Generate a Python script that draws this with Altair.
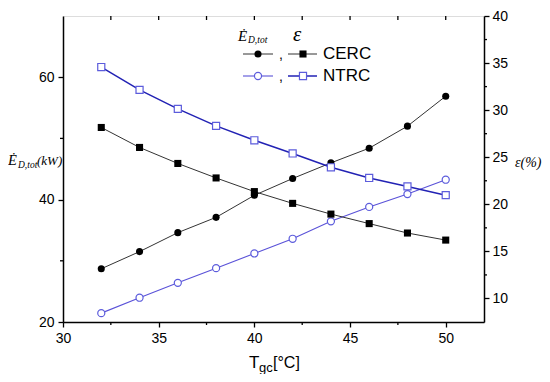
import altair as alt
import pandas as pd

# ---------------- data ----------------
T = [32, 34, 36, 38, 40, 42, 44, 46, 48, 50]
ed_cerc = [28.7, 31.5, 34.6, 37.1, 40.7, 43.45, 46.0, 48.4, 52.0, 56.9]
ed_ntrc = [21.45, 23.97, 26.4, 28.8, 31.2, 33.6, 36.45, 38.8, 40.9, 43.25]
eps_cerc = [28.16, 26.04, 24.34, 22.8, 21.35, 20.1, 18.96, 17.95, 16.95, 16.2]
eps_ntrc = [34.58, 32.15, 30.14, 28.33, 26.8, 25.4, 23.93, 22.8, 21.9, 20.97]

x_ticks = [30, 35, 40, 45, 50]
x_minor = [32.5, 37.5, 42.5, 47.5]
top_ticks = [32.5, 35, 37.5, 40, 42.5, 45, 47.5, 50]
left_ticks = [20, 40, 60]
left_minor = [30, 50]
right_ticks = [10, 15, 20, 25, 30, 35, 40]
right_minor = [12.5, 17.5, 22.5, 27.5, 32.5, 37.5]

W, H = 421, 306
SANS = "Liberation Sans"
SERIF = "Liberation Serif"
BLK_LINE = "#333333"
BLUE_C = "#5a52d8"
BLUE_S = "#2222b4"
BLUE_MK = "#5c5cdc"

d_ed_c = pd.DataFrame({"T": T, "ed": ed_cerc})
d_ed_n = pd.DataFrame({"T": T, "ed": ed_ntrc})
d_eps_c = pd.DataFrame({"T": T, "eps": eps_cerc})
d_eps_n = pd.DataFrame({"T": T, "eps": eps_ntrc})
one = pd.DataFrame({"k": [0]})

x_axis = alt.Axis(values=x_ticks, title=None, tickSize=5, tickWidth=1.3,
                  domainWidth=1.5, domainColor="black", tickColor="black",
                  labelFont=SANS, labelFontSize=14, labelColor="black",
                  labelPadding=4, grid=False, labelFlush=False)
xs = alt.Scale(domain=[30, 52], nice=False, zero=False)
X = alt.X("T:Q", scale=xs, axis=x_axis)

l_axis = alt.Axis(values=left_ticks, title=None, orient="left", tickSize=5,
                  tickWidth=1.3, domainWidth=1.5, domainColor="black",
                  tickColor="black", labelFont=SANS, labelFontSize=14,
                  labelColor="black", labelPadding=4, grid=False)
ls = alt.Scale(domain=[20, 70], nice=False, zero=False)
YL = alt.Y("ed:Q", scale=ls, axis=l_axis)

r_axis = alt.Axis(values=right_ticks, title=None, orient="right", tickSize=5,
                  tickWidth=1.3, domainWidth=1.5, domainColor="black",
                  tickColor="black", labelFont=SANS, labelFontSize=14,
                  labelColor="black", labelPadding=3, grid=False)
rs = alt.Scale(domain=[7.5, 40], nice=False, zero=False)
YR = alt.Y("eps:Q", scale=rs, axis=r_axis)

# ---------------- left (E_D,tot) group ----------------
l_line_c = alt.Chart(d_ed_c).mark_line(color=BLK_LINE, strokeWidth=1).encode(x=X, y=YL)
l_pt_c = alt.Chart(d_ed_c).mark_point(shape="circle", filled=True, color="black",
                                      size=50, opacity=1).encode(x=X, y=YL)
l_line_n = alt.Chart(d_ed_n).mark_line(color=BLUE_C, strokeWidth=1.1).encode(x=X, y=YL)
l_pt_n = alt.Chart(d_ed_n).mark_point(shape="circle", filled=False, fill="white",
                                      stroke=BLUE_MK, strokeWidth=1.2, size=50,
                                      opacity=1).encode(x=X, y=YL)
l_minor = alt.Chart(pd.DataFrame({"ed": left_minor})).mark_rule(
    color="black", strokeWidth=1.3).encode(
    y=YL, x=alt.value(-3), x2=alt.value(0))
x_minor_r = alt.Chart(pd.DataFrame({"T": x_minor})).mark_rule(
    color="black", strokeWidth=1.3).encode(
    x=X, y=alt.value(H), y2=alt.value(H + 3))
top_r = alt.Chart(pd.DataFrame({"T": top_ticks})).mark_rule(
    color="black", strokeWidth=1.3).encode(
    x=X, y=alt.value(0), y2=alt.value(4))

left_group = alt.layer(l_line_c, l_line_n, l_pt_c, l_pt_n, l_minor, x_minor_r, top_r)

# ---------------- right (epsilon) group ----------------
r_line_c = alt.Chart(d_eps_c).mark_line(color=BLK_LINE, strokeWidth=1).encode(x=X, y=YR)
r_pt_c = alt.Chart(d_eps_c).mark_point(shape="square", filled=True, color="black",
                                       size=50, opacity=1).encode(x=X, y=YR)
r_line_n = alt.Chart(d_eps_n).mark_line(color=BLUE_S, strokeWidth=1.5).encode(x=X, y=YR)
r_pt_n = alt.Chart(d_eps_n).mark_point(shape="square", filled=False, fill="white",
                                       stroke=BLUE_MK, strokeWidth=1.2, size=50,
                                       opacity=1).encode(x=X, y=YR)
r_minor = alt.Chart(pd.DataFrame({"eps": right_minor})).mark_rule(
    color="black", strokeWidth=1.3).encode(
    y=YR, x=alt.value(W), x2=alt.value(W + 3))

right_group = alt.layer(r_line_c, r_line_n, r_pt_c, r_pt_n, r_minor)


# ---------------- texts and legend (decoration) ----------------
def txt(s, x, y, font=SANS, size=14, style="normal", color="black", align="left",
        baseline="alphabetic"):
    return alt.Chart(one).mark_text(text=s, font=font, fontSize=size, fontStyle=style,
                                    color=color, align=align, baseline=baseline).encode(
        x=alt.value(x), y=alt.value(y))


def seg(x1, x2, y, color, w=1):
    return alt.Chart(one).mark_rule(color=color, strokeWidth=w).encode(
        x=alt.value(x1), x2=alt.value(x2), y=alt.value(y))


def mk(x, y, shape, filled, color):
    if filled:
        m = alt.Chart(one).mark_point(shape=shape, filled=True, color=color, size=50, opacity=1)
    else:
        m = alt.Chart(one).mark_point(shape=shape, filled=False, fill="white", stroke=color,
                                      strokeWidth=1.2, size=50, opacity=1)
    return m.encode(x=alt.value(x), y=alt.value(y))


deco = [
    # legend header
    txt("Ė", 175, 25, font=SERIF, size=15, style="italic"),
    txt("D,tot", 185, 27, font=SERIF, size=9.5, style="italic"),
    txt("ε", 230, 25, font=SERIF, size=21, style="italic"),
    # legend rows
    seg(180, 210, 38, BLK_LINE), mk(195, 38, "circle", True, "black"),
    txt(",", 216, 43, size=14),
    seg(225, 254, 38, BLK_LINE), mk(240, 38, "square", True, "black"),
    txt("CERC", 260, 38, size=17, baseline="middle"),
    seg(180, 210, 60, BLUE_C, 1.1), mk(195, 60, "circle", False, BLUE_MK),
    txt(",", 216, 65, size=14),
    seg(225, 254, 60, BLUE_S, 1.5), mk(240, 60, "square", False, BLUE_MK),
    txt("NTRC", 260, 60, size=17, baseline="middle"),
    # x-axis title
    txt("T", 186, 352, size=17),
    txt("gc", 196, 356, size=13),
    txt("[°C]", 210, 352, size=16),
    # left axis title
    txt("Ė", -55, 149, font=SERIF, size=14.5, style="italic"),
    txt("D,tot", -45, 152, font=SERIF, size=9.5, style="italic"),
    txt("(kW)", -26, 149, font=SERIF, size=13, style="italic"),
    # right axis title
    txt("ε(%)", 452, 151, font=SERIF, size=14, style="italic"),
]

chart = alt.layer(left_group, right_group, *deco).resolve_scale(
    y="independent").properties(
    width=W, height=H,
    autosize=alt.AutoSizeParams(type="none"),
    padding={"left": 55, "top": 8, "right": 58, "bottom": 52},
).configure_view(stroke="black", strokeWidth=1.5).configure(background="white")

chart.save("out.html", embed_options={"renderer": "svg", "actions": False})
